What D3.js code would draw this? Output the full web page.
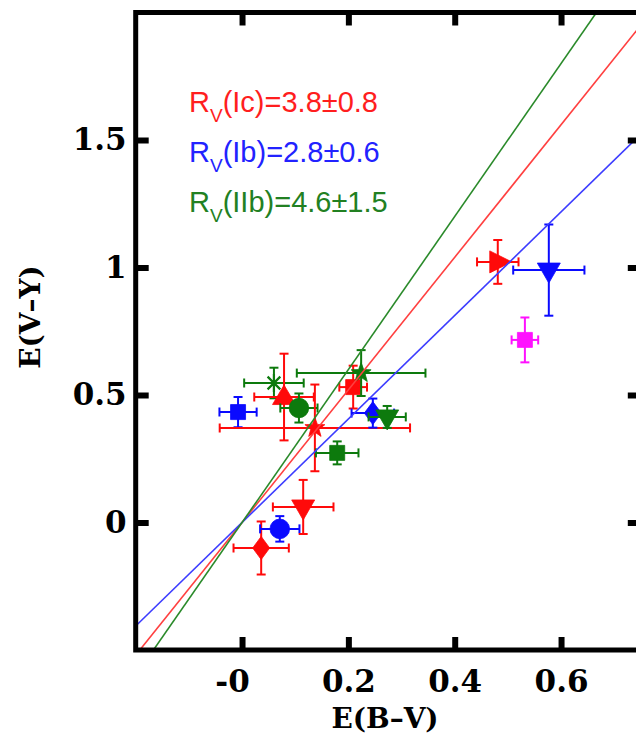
<!DOCTYPE html>
<html>
<head>
<meta charset="utf-8">
<script src="https://cdn.jsdelivr.net/npm/d3@7"></script>
<style>
  html, body { margin: 0; padding: 0; background: #fff; }
  svg { display: block; }
</style>
</head>
<body>
<svg id="chart" width="636" height="740"></svg>
<script>
// Colour excess measurements: E(B-V) against E(V-Y), one entry per object
const ebv    = [0.036, 0.071, 0.115, -0.0075, 0.060, 0.079, 0.107, 0.137, 0.209, 0.224, 0.246, 0.273, 0.179, 0.481, 0.577, 0.532];
const ebvErr = [0.052, 0.037, 0.057, 0.035, 0.056, 0.056, 0.035, 0.179, 0.026, 0.121, 0.040, 0.035, 0.040, 0.039, 0.067, 0.025];
const evy    = [-0.100, -0.025, 0.061, 0.433, 0.547, 0.492, 0.449, 0.371, 0.531, 0.586, 0.429, 0.414, 0.273, 1.022, 0.990, 0.716];
const evyErr = [0.104, 0.050, 0.106, 0.059, 0.060, 0.170, 0.057, 0.170, 0.084, 0.090, 0.057, 0.043, 0.045, 0.086, 0.179, 0.088];
const snType = ["Ic", "Ib", "Ic", "Ib", "IIb", "Ic", "IIb", "Ic", "Ic", "IIb", "Ib", "IIb", "IIb", "Ic", "Ib", "other"];
const marker = ["diamond", "circle", "down", "square", "asterisk", "up", "circle", "star", "square", "star", "diamond", "down", "square", "right", "down", "square"];

// Best-fit slopes of E(V-Y) = k * E(B-V) for each type, with the quoted R_V
const fitTypes  = ["Ic", "Ib", "IIb"];
const fitSlopes = [2.60, 2.03, 3.00];
const fitLabels = ["(Ic)=3.8\u00b10.8", "(Ib)=2.8\u00b10.6", "(IIb)=4.6\u00b11.5"];

// Axis ticks
const xTickVals = [0, 0.2, 0.4, 0.6];
const xTickText = ["-0", "0.2", "0.4", "0.6"];
const yTickVals = [0, 0.5, 1, 1.5];
const yTickText = ["0", "0.5", "1", "1.5"];

const markColor = { Ic: "#ff0a0a", Ib: "#0a0aff", IIb: "#0d7a0d", other: "#ff10ff" };
const lineColor = { Ic: "#ff4040", Ib: "#3c3cff", IIb: "#2a8a2a" };
const textColor = { Ic: "#ff1e1e", Ib: "#2222ff", IIb: "#228022" };

const svg = d3.select("#chart");
const x = d3.scaleLinear().domain([-0.2, 0.75]).range([135.7, 640.8]);
const y = d3.scaleLinear().domain([-0.5, 2.0]).range([650, 12.5]);

svg.append("defs").append("clipPath").attr("id", "plotClip")
  .append("rect")
  .attr("x", x(-0.2)).attr("y", y(2.0))
  .attr("width", x(0.75) - x(-0.2)).attr("height", y(-0.5) - y(2.0));

const plot = svg.append("g").attr("clip-path", "url(#plotClip)");

// Marker shapes, centred on the data point
function shapePath(kind) {
  switch (kind) {
    case "square":  return "M-7.5,-7.5H7.5V7.5H-7.5Z";
    case "diamond": return "M0,-11.5L8.5,0L0,11.5L-8.5,0Z";
    case "down":    return "M-11.5,-7L11.5,-7L0,13Z";
    case "up":      return "M0,-12L11.5,7.5L-11.5,7.5Z";
    case "right":   return "M-8,-11L-8,11L14,0Z";
    case "circle":  return d3.arc()({ innerRadius: 0, outerRadius: 9.8, startAngle: 0, endAngle: 2 * Math.PI });
    case "star": {
      const pts = [];
      for (let i = 0; i < 10; i++) {
        const r = i % 2 === 0 ? 10.5 : 4.3;
        const a = -Math.PI / 2 + i * Math.PI / 5;
        pts.push([r * Math.cos(a), r * Math.sin(a)]);
      }
      return "M" + pts.map(p => p.join(",")).join("L") + "Z";
    }
    case "asterisk": {
      let d = "";
      for (let i = 0; i < 4; i++) {
        const a = i * Math.PI / 4;
        const dx = 9 * Math.cos(a), dy = 9 * Math.sin(a);
        d += `M${-dx},${-dy}L${dx},${dy}`;
      }
      return d;
    }
  }
}

const idx = d3.range(ebv.length);
const cap = 4.5;

// Error bars and markers
const pts = plot.append("g").selectAll("g").data(idx).join("g");
pts.each(function (i) {
  const g = d3.select(this);
  const c = markColor[snType[i]];
  const cx = x(ebv[i]), cy = y(evy[i]);
  const x0 = x(ebv[i] - ebvErr[i]), x1 = x(ebv[i] + ebvErr[i]);
  const y0 = y(evy[i] - evyErr[i]), y1 = y(evy[i] + evyErr[i]);
  const eb = g.append("g").attr("stroke", c).attr("stroke-width", 2).attr("fill", "none");
  eb.append("line").attr("x1", x0).attr("x2", x1).attr("y1", cy).attr("y2", cy);
  eb.append("line").attr("x1", x0).attr("x2", x0).attr("y1", cy - cap).attr("y2", cy + cap);
  eb.append("line").attr("x1", x1).attr("x2", x1).attr("y1", cy - cap).attr("y2", cy + cap);
  eb.append("line").attr("x1", cx).attr("x2", cx).attr("y1", y0).attr("y2", y1);
  eb.append("line").attr("x1", cx - cap).attr("x2", cx + cap).attr("y1", y0).attr("y2", y0);
  eb.append("line").attr("x1", cx - cap).attr("x2", cx + cap).attr("y1", y1).attr("y2", y1);
  const m = g.append("path")
    .attr("transform", `translate(${cx},${cy})`)
    .attr("d", shapePath(marker[i]));
  if (marker[i] === "asterisk") {
    m.attr("fill", "none").attr("stroke", c).attr("stroke-width", 2.2);
  } else {
    m.attr("fill", c).attr("stroke", c).attr("stroke-width", 0.8);
  }
});

// Fitted lines through the origin
const xs = x.domain();
plot.append("g").selectAll("line").data(fitTypes).join("line")
  .attr("x1", x(xs[0])).attr("x2", x(xs[1]))
  .attr("y1", (t, k) => y(fitSlopes[k] * xs[0]))
  .attr("y2", (t, k) => y(fitSlopes[k] * xs[1]))
  .attr("stroke", t => lineColor[t])
  .attr("stroke-width", 1.6);

// Axes with inward ticks on all four sides
const tickFont = "'DejaVu Serif', serif";
function styleAxis(g) {
  g.select(".domain").remove();
  g.selectAll(".tick line").attr("stroke", "#000").attr("stroke-width", 6);
  g.selectAll(".tick text")
    .attr("font-family", tickFont).attr("font-weight", "bold")
    .attr("font-size", 31).attr("fill", "#000");
}

svg.append("g").attr("transform", `translate(0,${y(-0.5)})`)
  .call(d3.axisBottom(x).tickValues(xTickVals).tickSize(-13).tickPadding(20)
    .tickFormat((d, k) => xTickText[k]))
  .call(styleAxis)
  .call(g => g.selectAll(".tick text").filter((d, k) => xTickText[k].startsWith("-")).attr("dx", -10));
svg.append("g").attr("transform", `translate(0,${y(2.0)})`)
  .call(d3.axisTop(x).tickValues(xTickVals).tickSize(-13).tickFormat(""))
  .call(styleAxis);
svg.append("g").attr("transform", `translate(${x(-0.2)},0)`)
  .call(d3.axisLeft(y).tickValues(yTickVals).tickSize(-13).tickPadding(9)
    .tickFormat((d, k) => yTickText[k]))
  .call(styleAxis);
svg.append("g").attr("transform", `translate(${x(0.75)},0)`)
  .call(d3.axisRight(y).tickValues(yTickVals).tickSize(-13).tickFormat(""))
  .call(styleAxis);

// Plot frame
svg.append("rect")
  .attr("x", x(-0.2)).attr("y", y(2.0))
  .attr("width", x(0.75) - x(-0.2)).attr("height", y(-0.5) - y(2.0))
  .attr("fill", "none").attr("stroke", "#000").attr("stroke-width", 5);

// Axis titles
svg.append("text")
  .attr("x", 385).attr("y", 728)
  .attr("text-anchor", "middle")
  .attr("font-family", tickFont).attr("font-weight", "bold").attr("font-size", 28)
  .text("E(B\u2013V)");
svg.append("text")
  .attr("transform", "translate(40,317) rotate(-90)")
  .attr("text-anchor", "middle")
  .attr("font-family", tickFont).attr("font-weight", "bold").attr("font-size", 28)
  .text("E(V\u2013Y)");

// R_V annotations
const legend = svg.append("g").attr("font-family", "'Liberation Sans', Arial, sans-serif");
fitTypes.forEach((t, k) => {
  const txt = legend.append("text")
    .attr("x", 189).attr("y", 112 + k * 50)
    .attr("font-size", 29).attr("fill", textColor[t]);
  txt.append("tspan").text("R");
  txt.append("tspan").attr("font-size", 19).attr("dy", 10).text("V");
  txt.append("tspan").attr("dy", -10).text(fitLabels[k]);
});
</script>
</body>
</html>
